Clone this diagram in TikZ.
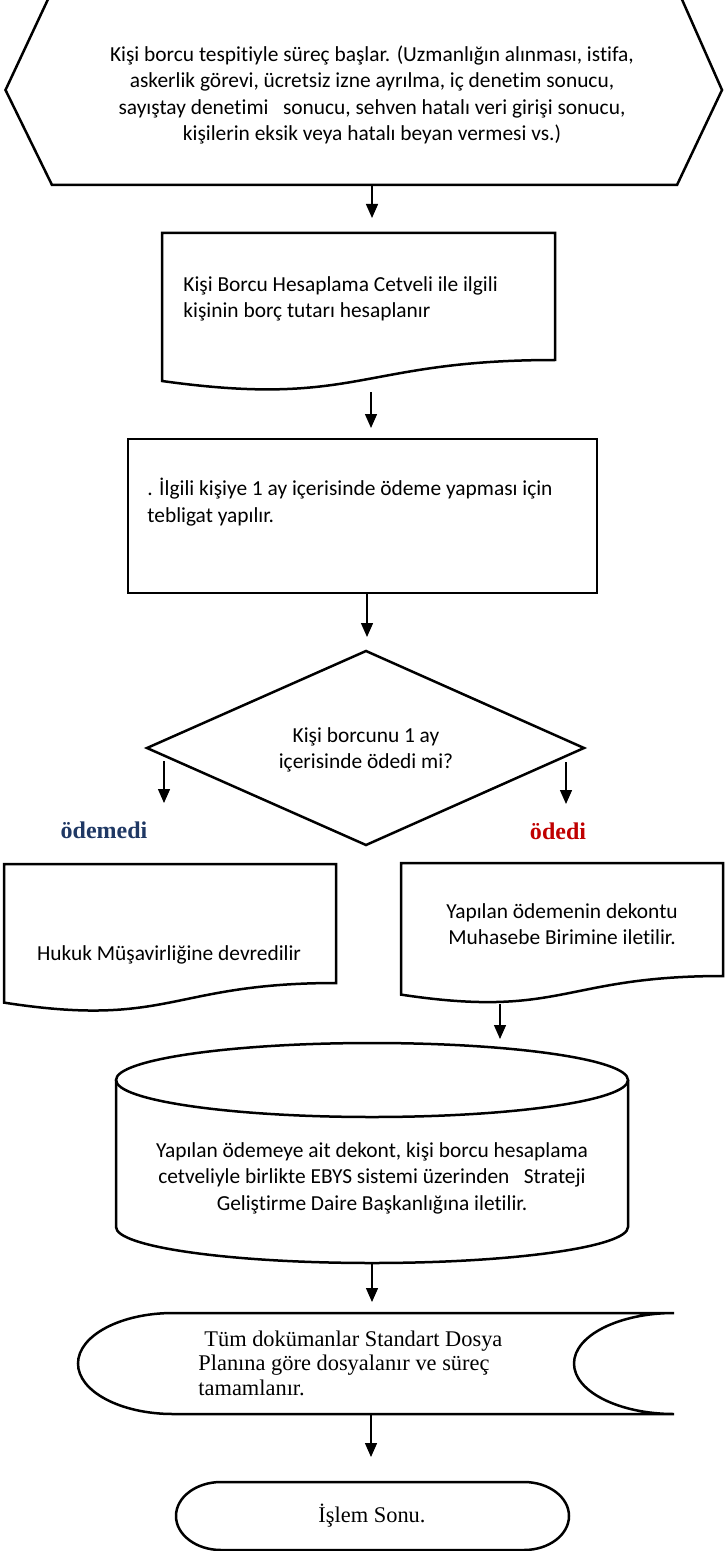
\documentclass[tikz,border=0pt]{standalone}
\usepackage{fontspec}
\setmainfont{Carlito}[Ligatures={NoCommon}]
\newfontfamily\serifface{Liberation Serif}
\usetikzlibrary{arrows.meta}
\definecolor{navyblue}{RGB}{31,56,100}
\definecolor{darkred}{RGB}{192,0,0}
\begin{document}
\begin{tikzpicture}[x=0.5pt,y=-0.5pt,
  shp/.style={line width=1.25pt, line join=miter},
  arr/.style={line width=0.7pt,-{Triangle[length=7pt,width=6pt]}},
  txt/.style={font=\fontsize{10.7}{13.3}\selectfont, inner sep=0pt},
  stxt/.style={font=\serifface\fontsize{11.2}{12.25}\selectfont, inner sep=0pt},
  lbl/.style={font=\serifface\bfseries\fontsize{12}{14}\selectfont, inner sep=0pt}]
\useasboundingbox (0,0) rectangle (725,1551);

% start hexagon
\draw[shp] (50,-5) -- (5.5,90) -- (52,185) -- (677,185) -- (722,90) -- (680,-5) -- cycle;
\node[txt, align=center] (start) at (372,95) {Kişi borcu tespitiyle süreç başlar. (Uzmanlığın alınması, istifa,\\
askerlik görevi, ücretsiz izne ayrılma, iç denetim sonucu,\\
sayıştay denetimi \ \ sonucu, sehven hatalı veri girişi sonucu,\\
kişilerin eksik veya hatalı beyan vermesi vs.)};

% document 1
\draw[shp] (162,233) -- (555,233) -- (555,360) .. controls (358.5,360) and (358.5,408.4) .. (162,381) -- cycle;
\node[txt, align=left, anchor=west] (calc) at (183,299) {Kişi Borcu Hesaplama Cetveli ile ilgili\\
kişinin borç tutarı hesaplanır};

% process box
\draw[shp] (128,439) rectangle (597,593);
\node[txt, align=left, anchor=west] (notify) at (147,502) {. İlgili kişiye 1 ay içerisinde ödeme yapması için\\
tebligat yapılır.};

% decision
\draw[shp] (366,651) -- (584,748) -- (366,845) -- (147,748) -- cycle;
\node[txt, align=center] (decision) at (366,750) {Kişi borcunu 1 ay\\ içerisinde ödedi mi?};

% labels
\node[lbl, text=navyblue] (no) at (104,830) {ödemedi};
\node[lbl, text=darkred] (yes) at (558,831) {ödedi};

% left document
\draw[shp] (4,864) -- (336,864) -- (336,983) .. controls (170,983) and (170,1028.4) .. (4,1002.6) -- cycle;
\node[txt] (legal) at (169,955) {Hukuk Müşavirliğine devredilir};

% right document
\draw[shp] (401,863) -- (723,863) -- (723,976) .. controls (562,976) and (562,1019) .. (401,994.6) -- cycle;
\node[txt, align=center] (receipt) at (562,924) {Yapılan ödemenin dekontu\\ Muhasebe Birimine iletilir.};

% cylinder
\draw[shp] (116,1080) -- (116,1227) arc[start angle=180, end angle=0, x radius=256, y radius=36] -- (628,1080);
\draw[shp] (372,1080) ellipse[x radius=256, y radius=37];
\node[txt, align=center] (ebys) at (372,1178) {Yapılan ödemeye ait dekont, kişi borcu hesaplama\\
cetveliyle birlikte EBYS sistemi üzerinden \ \ Strateji\\
Geliştirme Daire Başkanlığına iletilir.};

% stored data
\draw[shp] (173,1313) -- (674,1313) arc[start angle=-90, end angle=-270, x radius=100, y radius=50.5]
  -- (173,1414) arc[start angle=90, end angle=270, x radius=95, y radius=50.5] -- cycle;
\node[stxt, align=left, anchor=west] (archive) at (198,1363) {\hspace{3pt}Tüm dokümanlar Standart Dosya\\
Planına göre dosyalanır ve süreç\\
tamamlanır.};

% terminal
\draw[shp] (221,1482) -- (524,1482) arc[start angle=-90, end angle=90, x radius=45, y radius=34]
  -- (221,1550) arc[start angle=90, end angle=270, x radius=45, y radius=34] -- cycle;
\node[stxt] (finish) at (372,1516) {İşlem Sonu.};

% connector end points
\coordinate (a1s) at (372,186);  \coordinate (a1e) at (372,218);
\coordinate (a2s) at (371,392);  \coordinate (a2e) at (371,428);
\coordinate (a3s) at (367,594);  \coordinate (a3e) at (367,637);
\coordinate (a4s) at (164,761);  \coordinate (a4e) at (164,803);
\coordinate (a5s) at (566,762);  \coordinate (a5e) at (566,804);
\coordinate (a6s) at (500,1004); \coordinate (a6e) at (500,1039);
\coordinate (a7s) at (372,1264); \coordinate (a7e) at (372,1302);
\coordinate (a8s) at (371,1415); \coordinate (a8e) at (371,1457);

\draw[arr] (a1s) -- (a1e);
\draw[arr] (a2s) -- (a2e);
\draw[arr] (a3s) -- (a3e);
\draw[arr] (a4s) -- (a4e);
\draw[arr] (a5s) -- (a5e);
\draw[arr] (a6s) -- (a6e);
\draw[arr] (a7s) -- (a7e);
\draw[arr] (a8s) -- (a8e);
\end{tikzpicture}
\end{document}
